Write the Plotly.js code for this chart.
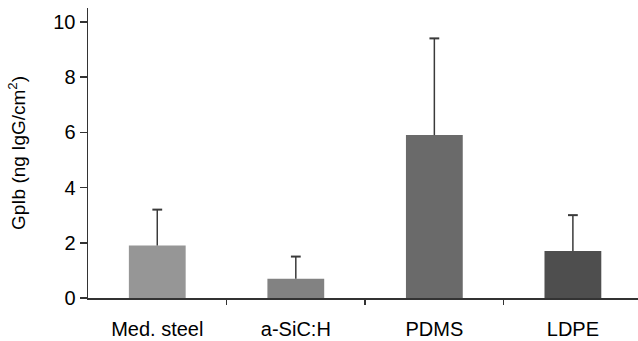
<!DOCTYPE html>
<html><head><meta charset="utf-8">
<script src="https://cdn.plot.ly/plotly-3.0.1.min.js"></script>
<style>html,body{margin:0;padding:0;background:#fff;}#chart{width:638px;height:341px;}</style>
</head><body><div id="chart"></div>
<script>
const categories = ["Med. steel", "a-SiC:H", "PDMS", "LDPE"];
const means = [1.9, 0.7, 5.9, 1.7];
const errorsUp = [1.3, 0.8, 3.5, 1.3];
const barColors = ["#969696", "#828282", "#6a6a6a", "#4e4e4e"];
const yTickVals = [0, 2, 4, 6, 8, 10];

const xIdx = categories.map((c, i) => i);
// error stems built from data
const stemX = [], stemY = [];
xIdx.forEach((x, i) => { stemX.push(x, x, null); stemY.push(means[i], means[i] + errorsUp[i], null); });
const data = [{
  type: "bar",
  x: xIdx,
  y: means,
  width: 0.41,
  marker: {color: barColors, line: {width: 0}},
  hoverinfo: "none"
}, {
  type: "scatter", mode: "lines", x: stemX, y: stemY,
  line: {color: "#3a3a3a", width: 1.5}, hoverinfo: "none"
}, {
  type: "scatter", mode: "markers", x: xIdx, y: means.map((m, i) => m + errorsUp[i]),
  marker: {symbol: "line-ew", size: 7, line: {color: "#3a3a3a", width: 2}}, hoverinfo: "none"
}];
const layout = {
  width: 638, height: 341,
  margin: {l: 88, r: 0, t: 8, b: 43},
  paper_bgcolor: "#fff", plot_bgcolor: "#fff",
  font: {family: "Liberation Sans, Arial, sans-serif", size: 20, color: "#000"},
  showlegend: false,
  xaxis: {
    range: [-0.5, 3.47], tickmode: "array", tickvals: xIdx, ticktext: categories,
    ticks: "outside", ticklen: 12, tickcolor: "rgba(0,0,0,0)", showline: true, linecolor: "#333", linewidth: 1.5,
    showgrid: false, zeroline: false, tickfont: {size: 20}, fixedrange: true
  },
  xaxis2: {
    overlaying: "x", anchor: "y", side: "bottom", matches: "x",
    range: [-0.5, 3.47], tickmode: "array", tickvals: [0.5, 1.5, 2.5], ticktext: ["", "", ""],
    ticks: "outside", ticklen: 6, tickwidth: 1.5, tickcolor: "#333",
    showticklabels: false, showline: false, showgrid: false, zeroline: false
  },
  yaxis: {
    range: [0, 10.5], tickmode: "array", tickvals: yTickVals,
    ticks: "outside", ticklen: 7, tickwidth: 1.5, tickcolor: "#333",
    showline: true, linecolor: "#333", linewidth: 1.5,
    showgrid: false, zeroline: false, tickfont: {size: 20},
    title: {text: "GpIb (ng IgG/cm<sup>2</sup>)", font: {size: 19}, standoff: 22}
  }
};
data.push({type: "scatter", x: [0], y: [0], mode: "markers", marker: {opacity: 0}, xaxis: "x2", yaxis: "y", hoverinfo: "none"});
Plotly.newPlot("chart", data, layout, {staticPlot: true});
</script></body></html>
